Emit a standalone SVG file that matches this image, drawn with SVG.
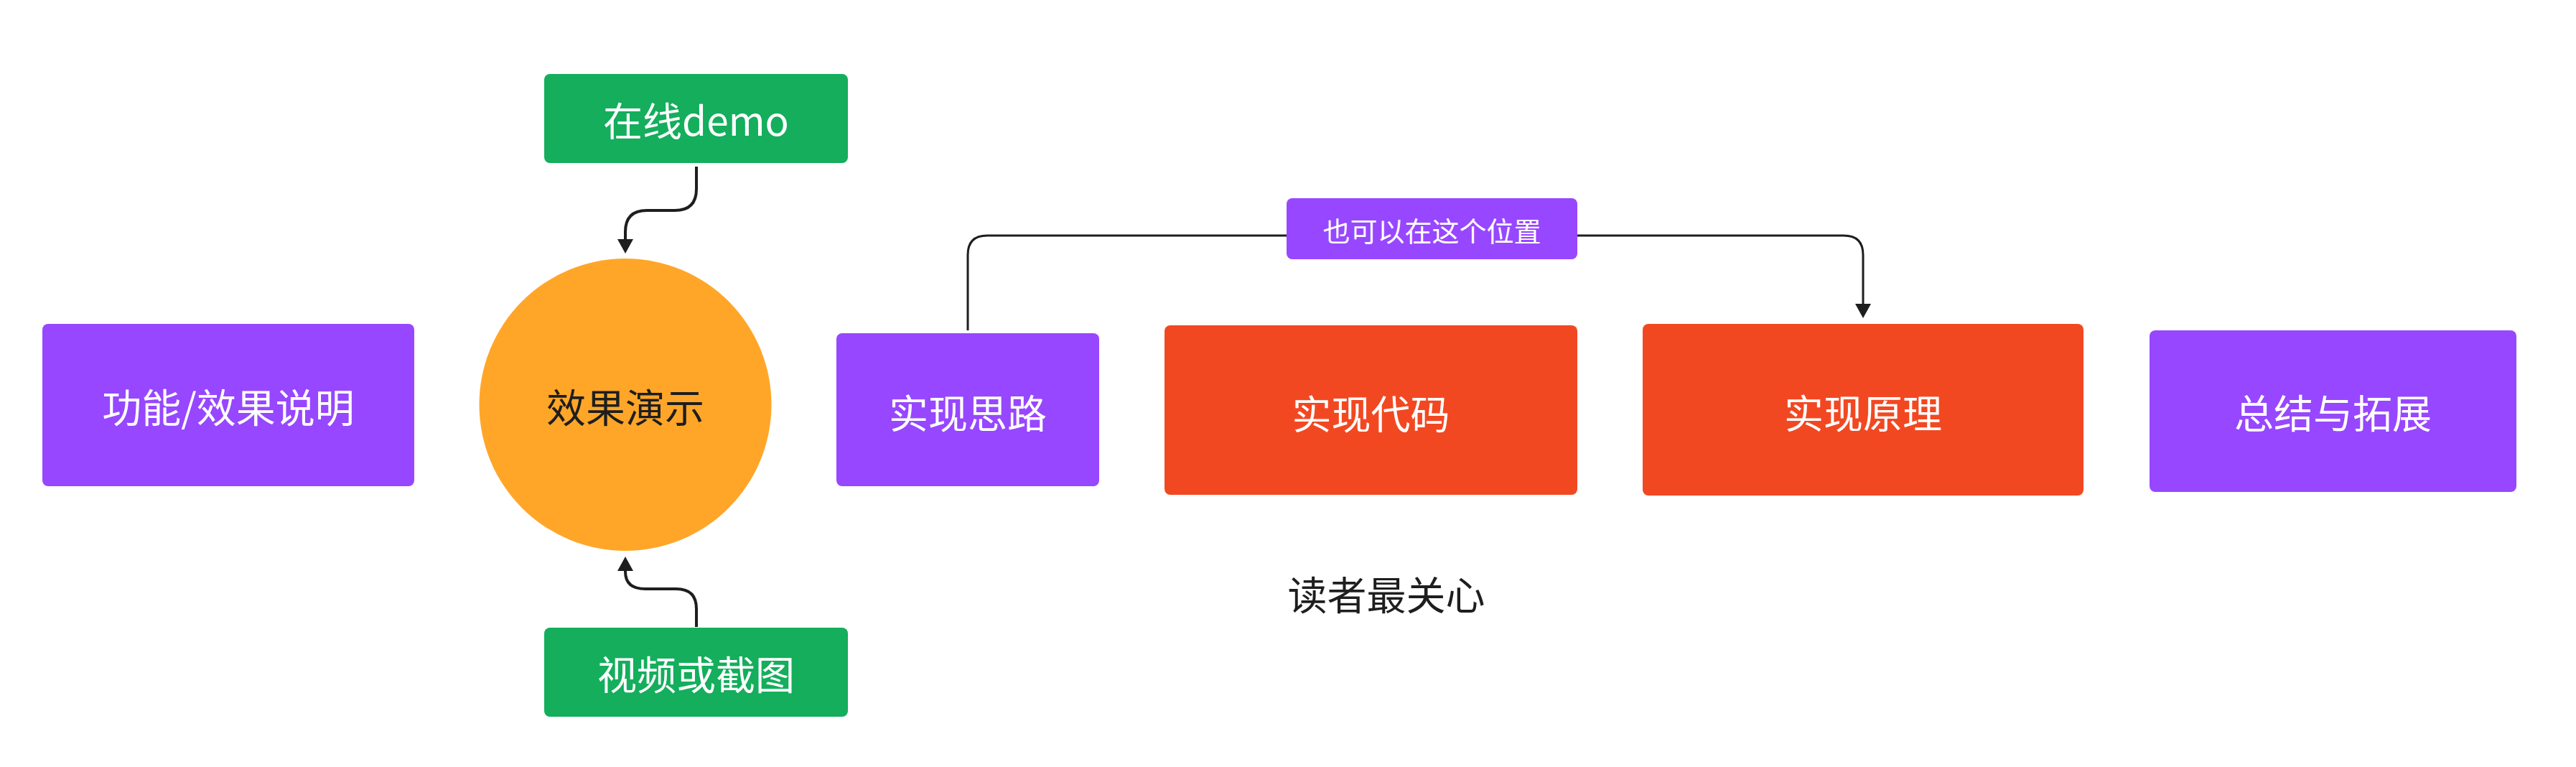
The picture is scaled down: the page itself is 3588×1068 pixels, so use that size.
<svg xmlns="http://www.w3.org/2000/svg" width="3588" height="1068" viewBox="0 0 3588 1068">
<style>
.t{font-family:"Noto Sans CJK SC","Noto Sans",sans-serif;font-size:55px;fill:#ffffff;text-anchor:middle;dominant-baseline:central}
.d{fill:#1e1e1e}
.s{font-size:38px}
.p{fill:#9747FF}
.r{fill:#F24822}
.g{fill:#14AE5C}
.o{fill:#FFA629}
.c{fill:none;stroke:#1e1e1e;stroke-width:4}
.c3{stroke-width:3}
</style>
<defs>
<marker id="ah" markerUnits="userSpaceOnUse" markerWidth="22" markerHeight="22" viewBox="0 0 20 22" refX="10" refY="11" orient="auto">
<path d="M0,0 L20,11 L0,22 z" fill="#1e1e1e"/>
</marker>
</defs>
<rect width="3588" height="1068" fill="#ffffff"/>
<g id="connectors">
<path class="c" d="M970 232 V263 Q970 293 940 293 H901 Q871 293 871 323 V343" marker-end="url(#ah)"/>
<path class="c" d="M970 873 V848 Q970 820 942 820 H899 Q871 820 871 796 V785" marker-end="url(#ah)"/>
<path class="c c3" d="M1348 460 V355 Q1348 328 1375 328 H2568 Q2595 328 2595 355 V433" marker-end="url(#ah)"/>
</g>
<g id="n-intro">
<rect class="p" x="59" y="451" width="518" height="226" rx="8"/>
<text class="t" x="318" y="564">功能/效果说明</text>
</g>
<g id="n-demo">
<circle class="o" cx="871" cy="563.5" r="203.5"/>
<text class="t d" x="871" y="564">效果演示</text>
</g>
<g id="n-online">
<rect class="g" x="758" y="103" width="423" height="124" rx="8"/>
<text class="t" x="969.5" y="165">在线demo</text>
</g>
<g id="n-video">
<rect class="g" x="758" y="874" width="423" height="124" rx="8"/>
<text class="t" x="969.5" y="936">视频或截图</text>
</g>
<g id="n-idea">
<rect class="p" x="1165" y="464" width="366" height="213" rx="8"/>
<text class="t" x="1348" y="572">实现思路</text>
</g>
<g id="n-code">
<rect class="r" x="1622" y="453" width="575" height="236" rx="8"/>
<text class="t" x="1909.5" y="573">实现代码</text>
</g>
<g id="n-principle">
<rect class="r" x="2288" y="451" width="614" height="239" rx="8"/>
<text class="t" x="2595" y="572">实现原理</text>
</g>
<g id="n-summary">
<rect class="p" x="2994" y="460" width="511" height="225" rx="8"/>
<text class="t" x="3249.5" y="572">总结与拓展</text>
</g>
<g id="n-label">
<rect class="p" x="1792" y="276" width="405" height="85" rx="8"/>
<text class="t s" x="1994.5" y="319">也可以在这个位置</text>
</g>
<g id="n-note">
<text class="t d" x="1931" y="825">读者最关心</text>
</g>
</svg>
